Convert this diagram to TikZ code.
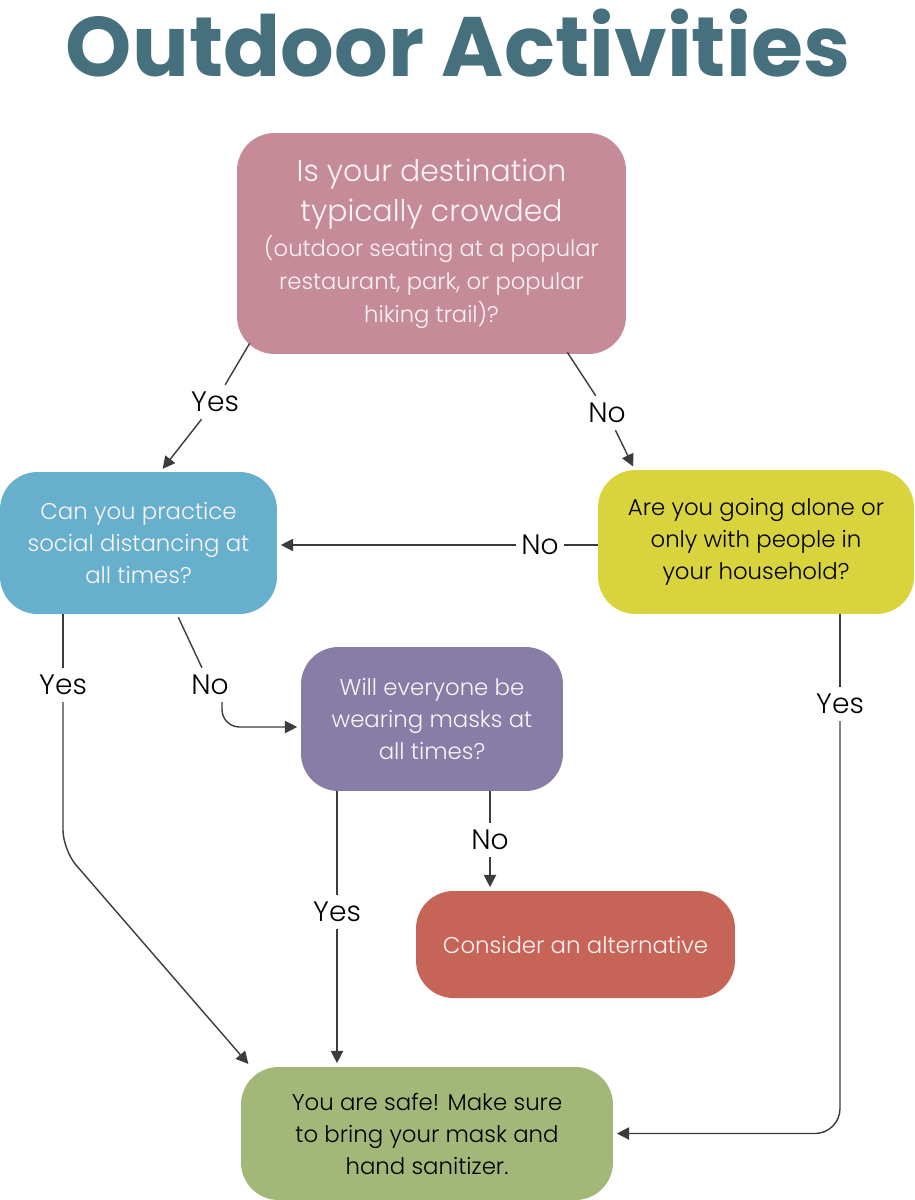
\documentclass[tikz,border=0pt]{standalone}
\usepackage{fontspec}
\IfFontExistsTF{Poppins Light}{\setmainfont{Poppins}[UprightFont=* Light,BoldFont=* Bold]}{\setmainfont{Poppins}}
\usetikzlibrary{arrows.meta}
\definecolor{titleblue}{HTML}{47707F}
\definecolor{crowdpink}{HTML}{C58B98}
\definecolor{distblue}{HTML}{67B0CD}
\definecolor{homeyellow}{HTML}{D9D33D}
\definecolor{maskpurple}{HTML}{887DA7}
\definecolor{altred}{HTML}{C66458}
\definecolor{safegreen}{HTML}{A3B778}
\definecolor{boxwhite}{HTML}{FCF4F4}
\definecolor{linegray}{HTML}{3C3C3C}

\begin{document}
\begin{tikzpicture}[x=0.02cm,y=-0.02cm,
    box/.style={rounded corners=0.75cm,align=center,inner sep=0pt,font=\fontsize{13}{18.2}\selectfont},
    ans/.style={font=\fontsize{16}{18}\selectfont,text height=11.2pt,text depth=0pt,inner xsep=3pt,inner ysep=4pt},
    link/.style={draw=linegray,line width=0.8pt},
    arr/.style={link,-{Triangle[length=7pt,width=7pt]},shorten >=2pt}]
  \useasboundingbox (0,0) rectangle (914,1200);

  \node[font=\fontsize{48}{56}\selectfont\bfseries,text=titleblue] (title) at (458,43) {Outdoor Activities};

  \node[box,fill=crowdpink,text=boxwhite,minimum width=7.78cm,minimum height=4.42cm] (crowded) at (431.5,243.5)
    {\fontsize{17}{22.8}\selectfont Is your destination\\[4.6pt]
     \fontsize{17}{22.8}\selectfont typically crowded\\[1.8pt]
     \fontsize{12.9}{18.8}\selectfont (outdoor seating at a popular\\[0.6pt]
     \fontsize{12.9}{18.8}\selectfont restaurant, park, or popular\\[0.6pt]
     \fontsize{12.9}{18.8}\selectfont hiking trail)?};
  \node[box,fill=distblue,text=boxwhite,minimum width=5.54cm,minimum height=2.84cm] (social) at (138.5,543)
    {Can you practice\\social distancing at\\all times?};
  \node[box,fill=homeyellow,text=black,minimum width=6.32cm,minimum height=2.88cm] (household) at (756,542)
    {Are you going alone or\\only with people in\\your household?};
  \node[box,fill=maskpurple,text=boxwhite,minimum width=5.24cm,minimum height=2.88cm] (masks) at (432,719)
    {Will everyone be\\wearing masks at\\all times?};
  \node[box,fill=altred,text=boxwhite,minimum width=6.38cm,minimum height=2.14cm] (alt) at (575.5,944.5)
    {Consider an alternative};
  \node[box,fill=safegreen,text=black,minimum width=7.44cm,minimum height=2.66cm] (safe) at (427,1133.5)
    {You are safe! Make sure\\to bring your mask and\\hand sanitizer.};

  \node[ans] (y1) at (215,402) {Yes};
  \node[ans] (n1) at (607,413) {No};
  \node[ans] (n2) at (540,545) {No};
  \node[ans] (y2) at (63,685) {Yes};
  \node[ans] (n3) at (210,685) {No};
  \node[ans] (y3) at (337,912) {Yes};
  \node[ans] (n4) at (490,840) {No};
  \node[ans] (y4) at (840,704) {Yes};
  \coordinate (bend) at (63,850);

  \draw[link] ([shift={(13,-11)}]crowded.south west) -- (y1);
  \draw[arr] (y1) -- ([shift={(22,0)}]social.north);
  \draw[link] ([shift={(-59,-2)}]crowded.south east) -- (n1);
  \draw[arr] (n1) -- ([shift={(37,0)}]household.north west);
  \draw[link] (n2 -| household.west) -- (n2);
  \draw[arr] (n2) -- (n2 -| social.east);
  \draw[link] (y2 |- social.south) -- (y2);
  \draw[arr,rounded corners=0.4cm] (y2) -- (bend) -- ([shift={(10,0)}]safe.north west);
  \draw[link] ([shift={(-99,3)}]social.south east) -- (n3);
  \draw[arr,rounded corners=0.35cm] ([shift={(12,0)}]n3.south) |- ([shift={(0,8)}]masks.west);
  \draw[link] (y3 |- masks.south) -- (y3);
  \draw[arr] (y3) -- (y3 |- safe.north);
  \draw[link] (n4 |- masks.south) -- (n4);
  \draw[arr] (n4) -- (n4 |- alt.north);
  \draw[link] (y4 |- household.south) -- (y4);
  \draw[arr,rounded corners=0.5cm] (y4) |- (safe.east);
\end{tikzpicture}
\end{document}
